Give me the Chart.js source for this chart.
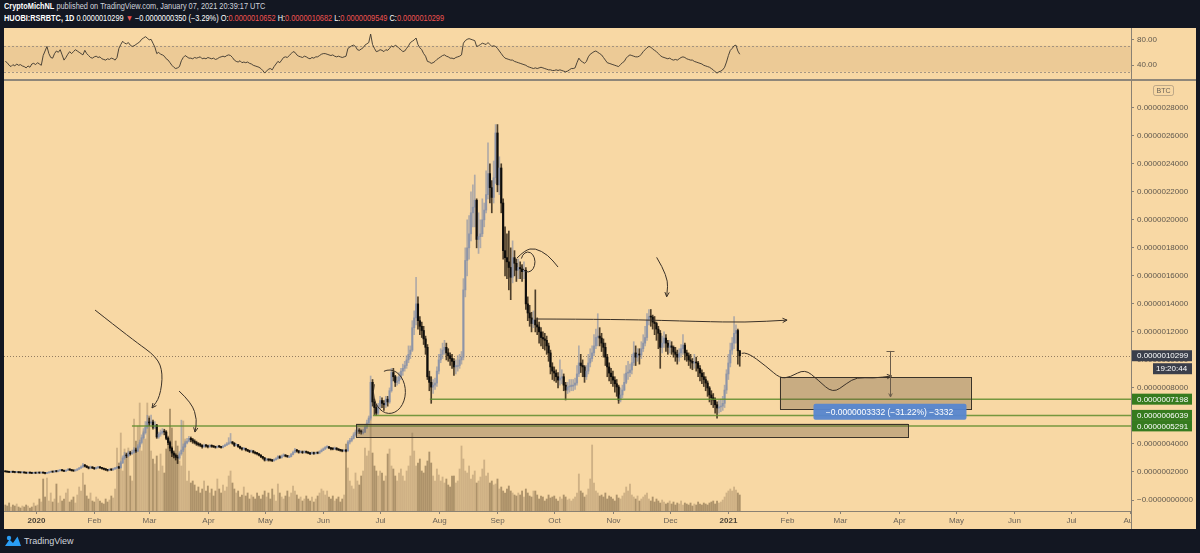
<!DOCTYPE html>
<html>
<head>
<meta charset="utf-8">
<script src="https://cdn.jsdelivr.net/npm/chart.js@4.4.1/dist/chart.umd.min.js"></script>
<style>
  html, body { margin: 0; padding: 0; background: #131722; }
  body { width: 1200px; height: 553px; position: relative; overflow: hidden; font-family: "Liberation Sans", Arial, sans-serif; }
  .hdr { position: absolute; left: 4px; top: 1px; font-size: 8.4px; line-height: 11.7px; color: #d1d4dc; white-space: nowrap; transform: scaleX(0.88); transform-origin: left top; }
  .hdr b { color: #fff; }
  .hdr .w { color: #fff; }
  .hdr .dn { color: #ef5350; }
  .frame { position: absolute; left: 4px; top: 28px; width: 1192px; height: 501px; background: #f8d8a4; }
  .sep { position: absolute; left: 4px; top: 79px; width: 1192px; height: 2px; background: #8f877a; }
  #rsiCanvas { position: absolute; left: 4px; top: 28px; }
  #mainCanvas { position: absolute; left: 4px; top: 80px; }
  .logo { position: absolute; left: 4px; top: 535px; height: 12px; display: flex; align-items: center; color: #d1d4dc; font-size: 9px; }
  .logo svg { margin-right: 2px; }
</style>
</head>
<body>
<div class="hdr">
  <div><b>CryptoMichNL</b> published on TradingView.com, January 07, 2021 20:39:17 UTC</div>
  <div><b>HUOBI:RSRBTC, 1D</b> <span class="w">0.0000010299</span> <span class="dn">▼</span> <span class="w">−0.0000000350 (−3.29%)</span> <span class="w">O:</span><span class="dn">0.0000010652</span> <span class="w">H:</span><span class="dn">0.0000010682</span> <span class="w">L:</span><span class="dn">0.0000009549</span> <span class="w">C:</span><span class="dn">0.0000010299</span></div>
</div>
<div class="frame"></div>
<canvas id="rsiCanvas" width="1192" height="51"></canvas>
<div class="sep"></div>
<canvas id="mainCanvas" width="1192" height="449"></canvas>
<div class="logo">
  <svg width="18" height="12" viewBox="0 0 18 12"><path d="M1 11 L5.5 4.5 L9 8 L13.5 1.5 L17 11 Z" fill="#2a9df4"/><circle cx="5" cy="3" r="2.2" fill="#2a9df4"/></svg>
  <span>TradingView</span>
</div>
<script>
// --- Data (prices in satoshi, 1 sat = 0.00000001 BTC) ---
const startDay = -16;   // first candle: 16 Dec 2019 (day 0 = 1 Jan 2020)
const firstOpen = 20.3;

const closes = [
  20.2, 20.0, 19.8, 20.1, 19.9, 19.7, 19.8, 19.6, 19.5, 19.7,
  19.4, 19.2, 19.5, 19.3, 19.1, 19.4, 19.2, 19.6, 19.3, 19.5,
  19.3, 19.0, 19.4, 19.8, 20.2, 20.0, 20.6, 20.3, 21.0, 21.4,
  21.0, 20.6, 21.2, 21.8, 21.5, 21.0, 20.8, 21.3, 22.0, 22.8,
  23.6, 25.0, 24.2, 23.4, 22.8, 23.5, 22.9, 22.4, 23.0, 23.4,
  23.0, 22.5, 22.0, 21.6, 21.2, 21.8, 21.5, 22.2, 22.8, 23.2,
  23.0, 26.5, 30.0, 32.0, 31.5, 33.5, 33.0, 34.0, 35.7, 35.0,
  38.0, 41.0, 44.5, 48.0, 52.0, 55.7, 55.0, 55.7, 52.0, 53.5,
  45.0, 47.0, 48.0, 49.0, 48.5, 44.0, 41.0, 37.0, 33.5, 32.0,
  30.5, 30.0, 33.0, 35.7, 38.0, 40.7, 42.0, 44.0, 43.0, 42.0,
  41.0, 40.0, 39.5, 39.0, 38.0, 39.0, 38.5, 38.0, 38.8, 38.3,
  38.0, 37.6, 38.2, 38.0, 37.5, 38.4, 39.2, 40.0, 40.8, 41.4,
  40.5, 39.0, 39.5, 38.2, 37.0, 36.4, 36.8, 35.8, 35.2, 34.5,
  35.0, 34.0, 33.4, 33.0, 32.0, 31.0, 30.0, 28.5, 29.0, 28.6,
  28.5, 28.0, 28.8, 29.5, 31.0, 30.2, 31.5, 32.0, 31.4, 31.0,
  31.0, 32.5, 34.0, 35.7, 35.0, 34.0, 34.5, 33.8, 34.5, 34.0,
  33.5, 33.0, 33.8, 33.2, 33.6, 33.5, 34.5, 35.5, 36.5, 37.5,
  38.0, 37.2, 36.5, 36.4, 37.0, 36.2, 35.8, 35.4, 35.0, 35.2,
  35.0, 41.4, 42.5, 44.0, 46.5, 48.5, 50.0, 49.0, 48.5, 48.5,
  52, 55, 58.5, 84, 70, 66, 62, 67, 71, 69,
  68, 72, 70, 78, 91, 88, 84, 85, 88, 92,
  94, 96, 100, 104, 107, 123, 130, 140, 128, 124,
  121, 115, 109, 88, 84, 80.6, 82, 83.5, 92, 100,
  104, 107, 109, 105, 103, 101, 99, 95, 96, 96,
  100, 102, 150, 171, 180, 190, 205, 209, 214, 186,
  188, 190, 200, 207, 218, 233, 223, 216, 230, 262,
  225, 237, 212, 178, 173, 170, 166, 159, 173, 169,
  164, 166, 165, 163, 164, 140, 133.5, 130, 126, 128.5,
  125, 123.5, 120, 116, 115, 114, 110, 105, 95, 92,
  90.6, 88, 85.6, 87, 88, 82, 78.5, 80.7, 81, 82,
  82, 83.5, 90, 97.8, 96, 95, 88, 92, 97.8, 101,
  105, 110, 116, 117, 115.6, 112, 109, 102, 95, 90.6,
  88, 85.6, 83, 80.7, 71.4, 75, 78.5, 84, 90.6, 91,
  92.8, 98, 105, 102, 104, 103.5, 108, 112, 116, 128.5,
  131, 130.6, 127, 126, 122, 119, 109, 112, 115.6, 112,
  109, 110, 109, 105.6, 104, 102, 105, 108, 110.6, 105,
  103, 100, 99, 97.8, 98.5, 97.8, 94, 90.6, 88, 86,
  83.5, 80, 75, 73, 71.4, 68, 65.7, 66.4, 67, 69,
  78.5, 90, 97.8, 107, 112, 119, 121, 106.52, 102.99
];

const highs = [
  20.6, 20.4, 20.2, 20.4, 20.3, 20.0, 20.1, 20.0, 19.8, 20.0,
  19.9, 19.6, 19.8, 19.7, 19.5, 19.7, 19.6, 19.9, 19.8, 19.8,
  19.8, 19.5, 19.7, 20.2, 20.6, 20.5, 21.0, 20.9, 21.5, 21.9,
  21.7, 21.2, 21.6, 22.4, 22.2, 21.8, 21.3, 21.8, 22.5, 23.4,
  24.4, 26.2, 25.4, 24.6, 23.8, 24.2, 23.8, 23.2, 23.6, 24.0,
  23.8, 23.4, 22.8, 22.4, 21.9, 22.4, 22.2, 22.8, 23.4, 23.9,
  24.0, 27.8, 31.5, 34.0, 33.5, 35.0, 34.8, 35.6, 37.5, 37.0,
  39.5, 42.8, 46.5, 51.0, 56.0, 60.5, 58.5, 60.7, 57.0, 56.0,
  54.0, 48.5, 50.0, 51.0, 50.5, 49.5, 45.0, 42.0, 38.0, 35.0,
  33.0, 32.0, 34.5, 57.0, 40.0, 42.0, 44.0, 45.5, 45.0, 44.0,
  43.0, 42.0, 41.0, 40.5, 39.5, 40.0, 39.8, 39.2, 39.5, 39.4,
  38.8, 38.4, 38.8, 38.8, 38.4, 39.0, 40.0, 41.0, 44.5, 47.5,
  41.8, 41.0, 40.2, 39.8, 38.5, 37.5, 37.6, 37.0, 36.2, 35.6,
  35.8, 35.4, 34.5, 34.0, 33.2, 32.4, 31.2, 30.4, 29.8, 29.4,
  29.2, 29.0, 29.4, 30.2, 31.8, 31.6, 32.2, 33.0, 32.4, 31.8,
  31.8, 33.4, 35.0, 36.8, 36.2, 35.4, 35.2, 35.0, 35.2, 35.0,
  34.4, 34.0, 34.4, 34.2, 34.2, 34.2, 35.2, 36.4, 37.2, 38.2,
  38.8, 38.4, 37.6, 37.2, 37.8, 37.4, 36.6, 36.2, 35.8, 35.8,
  36.0, 42.5, 44.0, 45.5, 48.0, 50.0, 52.0, 51.0, 50.0, 50.5,
  53.5, 57.0, 60.0, 88.5, 86.0, 72.0, 68.0, 69.0, 74.0, 73.0,
  71, 74, 74, 80, 94, 94, 89, 88, 91, 94,
  97, 99, 103, 110, 110, 128, 135, 159, 145, 131,
  127, 124, 117, 111, 92, 88, 86, 87, 95, 104,
  108, 112, 114, 112, 108, 105, 104, 101, 100, 103,
  104, 106, 158, 180, 200, 203, 220, 225, 232, 215,
  205, 200, 215, 212, 235, 255, 240, 228, 242, 268,
  268, 245, 240, 215, 195, 190, 192, 180, 185, 178,
  172, 172, 170, 168, 170, 166, 145, 139, 134, 135,
  150, 130, 127, 123, 120, 119, 117, 112, 107, 98,
  95, 93, 91, 100, 93, 90, 84, 84, 86, 86,
  86, 87, 96, 110, 104, 100, 96, 96, 104, 108,
  110, 118, 122, 133, 123, 119, 115, 112, 104, 98,
  94, 92, 88, 86, 82, 80, 82, 90, 96, 99,
  97, 104, 113, 110, 108, 108, 113, 118, 124, 133,
  136, 136, 132, 131, 127, 124, 121, 117, 120, 118,
  114, 114, 113, 110, 109, 107, 108, 111, 118, 112,
  107, 105, 104, 101, 104, 102, 99, 96, 93, 91,
  88, 85, 81, 78, 76, 73, 70, 71, 72, 74,
  82, 93, 104, 112, 116, 131, 125, 122, 106.82
];

const lows = [
  19.9, 19.7, 19.5, 19.6, 19.6, 19.4, 19.5, 19.3, 19.2, 19.3,
  19.1, 18.9, 19.0, 19.0, 18.8, 18.9, 18.9, 19.0, 19.0, 19.1,
  19.0, 18.7, 18.8, 19.2, 19.6, 19.7, 19.8, 20.0, 20.1, 20.7,
  20.6, 20.2, 20.4, 21.0, 21.1, 20.6, 20.4, 20.6, 21.1, 21.8,
  22.6, 23.2, 23.6, 23.0, 22.2, 22.5, 22.4, 21.8, 22.1, 22.6,
  22.6, 22.0, 21.5, 21.0, 20.6, 20.9, 21.0, 21.2, 21.8, 22.4,
  22.3, 22.8, 26.0, 29.0, 30.2, 30.8, 32.0, 32.5, 33.4, 34.0,
  34.5, 37.0, 40.0, 43.5, 47.0, 51.0, 53.0, 53.5, 50.5, 51.0,
  44.0, 44.0, 45.5, 47.0, 46.5, 43.0, 39.5, 35.0, 31.0, 30.0,
  28.5, 26.0, 29.0, 32.0, 34.5, 37.5, 40.0, 41.5, 41.5, 40.5,
  40.0, 39.0, 38.5, 38.0, 37.0, 37.6, 37.8, 37.2, 37.6, 37.6,
  37.4, 37.0, 37.2, 37.4, 37.0, 37.2, 38.0, 38.8, 39.6, 40.4,
  39.8, 38.2, 38.6, 37.6, 36.4, 35.6, 35.8, 35.0, 34.5, 33.8,
  34.0, 33.4, 32.8, 32.2, 31.4, 30.2, 29.2, 27.8, 28.0, 27.8,
  27.8, 27.4, 27.8, 28.5, 29.2, 29.6, 29.8, 31.0, 30.8, 30.4,
  30.4, 30.8, 32.2, 33.6, 34.2, 33.4, 33.6, 33.2, 33.5, 33.4,
  33.0, 32.4, 32.8, 32.6, 32.8, 33.0, 33.2, 34.2, 35.2, 36.0,
  37.0, 36.6, 35.8, 35.8, 36.0, 35.6, 35.2, 34.8, 34.4, 34.6,
  34.4, 34.8, 40.0, 41.5, 43.5, 45.5, 47.5, 47.5, 47.0, 47.0,
  48.0, 51.0, 54.0, 57.0, 67.0, 61.0, 60.5, 61.0, 65.0, 66.0,
  64, 66, 67, 69, 77, 85, 81, 82, 83, 86,
  89, 92, 94, 98, 101, 106, 118, 125, 122, 118,
  116, 111, 104, 86, 78, 69, 76, 79, 81, 90,
  98, 101, 104, 100, 99, 96, 94, 89, 90, 92,
  94, 97, 100, 145, 160, 172, 185, 195, 195, 180,
  176, 180, 188, 195, 205, 215, 212, 205, 212, 226,
  220, 218, 205, 172, 160, 158, 150, 143, 155, 160,
  156, 158, 158, 156, 158, 136, 128, 124, 120, 123,
  120, 118, 112, 110, 108, 107, 104, 99, 90, 86,
  85, 84, 80, 82, 83, 78, 71.4, 76, 77, 78,
  78, 79, 82, 88, 91, 88, 84, 86, 90, 95,
  99, 103, 108, 110, 110, 106, 102, 96, 88, 85,
  83, 81, 77, 74, 69, 70, 73, 78, 83, 86,
  88, 90, 96, 96, 99, 97, 101, 106, 110, 114,
  125, 124, 122, 118, 114, 108, 94, 105, 109, 106,
  104, 105, 104, 102, 99, 97, 99, 102, 104, 100,
  99, 96, 94, 93, 94, 92, 88, 85, 83, 81,
  78, 74, 70, 68, 66, 62, 58.5, 62, 63, 64,
  66, 76, 86, 95, 104, 108, 112, 97, 95.49
];

const volumes = [
  6, 5, 8, 4, 6, 5, 7, 4, 3, 5,
  4, 6, 5, 3, 4, 8, 5, 6, 12, 9,
  32, 14, 33, 10, 18, 9, 12, 27, 8, 15,
  10, 12, 18, 22, 9, 11, 14, 8, 16, 24,
  20, 38, 26, 15, 12, 18, 10, 9, 14, 12,
  10, 8, 7, 12, 9, 11, 15, 13, 22, 63,
  48, 78, 40, 62, 55, 63, 35, 30, 92, 70,
  85, 108, 60, 80, 72, 108, 95, 60, 52, 47,
  55, 40, 57, 45, 38, 62, 75, 102, 83, 58,
  70, 65, 50, 45, 90, 72, 30, 40, 28, 30,
  26, 20, 24, 18, 22, 30, 20, 25, 18, 22,
  15, 20, 32, 22, 18, 26, 20, 24, 35, 40,
  28, 22, 18, 20, 14, 16, 24, 15, 18, 12,
  16, 14, 12, 18, 15, 12, 16, 20, 14, 18,
  12, 22, 16, 10, 27, 18, 14, 12, 15, 20,
  14, 18, 25, 20, 16, 12, 14, 10, 12, 15,
  12, 10, 14, 9, 12, 15, 18, 22, 20, 16,
  20, 14, 12, 15, 10, 12, 14, 9, 12, 16,
  67, 43, 30, 25, 22, 38, 30, 26, 35, 40,
  63, 55, 60, 95, 58, 45, 40, 35, 40, 38,
  30, 35, 57, 62, 45, 42, 35, 30, 38, 42,
  35, 30, 40, 45, 55, 78, 60, 45, 48, 52,
  40, 38, 45, 50, 59, 48, 35, 30, 42, 36,
  30, 34, 28, 32, 26, 24, 35, 35, 28, 30,
  42, 65, 52, 40, 38, 45, 32, 36, 40, 28,
  30, 34, 42, 51, 35, 38, 28, 30, 26, 27,
  32, 22, 24, 20, 18, 22, 25, 20, 18, 16,
  15, 18, 16, 20, 14, 22, 18, 15, 14, 20,
  20, 16, 12, 15, 14, 10, 12, 16, 13, 14,
  15, 12, 10, 14, 12, 16, 14, 11, 12, 10,
  12, 14, 18, 37, 20, 18, 14, 16, 22, 32,
  66, 28, 20, 18, 15, 16, 14, 18, 12, 15,
  14, 12, 10, 16, 13, 12, 15, 18, 24, 20,
  27, 16, 14, 12, 15, 10, 12, 14, 16, 18,
  12, 10, 14, 9, 12, 10, 8, 11, 9, 7,
  8, 10, 7, 9, 6, 8, 7, 10, 6, 8,
  7, 6, 8, 5, 7, 6, 9, 7, 6, 8,
  7, 6, 8, 9, 10, 7, 10, 8, 9, 11,
  14, 18, 20, 22, 20, 24, 21, 18, 16
];

const rsiValues = [
  46, 44, 40, 38, 41, 39, 42, 40, 41, 39,
  38, 36, 39, 37, 42, 43, 41, 44, 42, 40,
  55, 62, 69, 58, 52, 51, 58, 62, 60, 64,
  56, 48, 52, 57, 61, 58, 61, 64, 62, 60,
  58, 56, 63, 58, 55, 52, 51, 53, 54, 52,
  53, 50, 49, 48, 50, 49, 51, 50, 48, 52,
  66, 72, 77, 74, 73, 75, 71, 69, 70, 72,
  74, 76, 80, 82, 84, 82, 79, 80, 74, 68,
  58, 60, 57, 56, 54, 50, 48, 44, 40, 37,
  35, 36, 38, 47, 52, 55, 53, 51, 51, 50,
  52, 51, 52, 53, 50, 51, 50, 52, 51, 50,
  51, 49, 50, 52, 53, 54, 53, 55, 56, 55,
  52, 48, 46, 45, 47, 44, 45, 44, 45, 43,
  42, 40, 39, 38, 37, 35, 32, 28, 31, 34,
  35, 33, 38, 42, 46, 44, 48, 52, 53, 52,
  55, 58, 61, 60, 56, 54, 53, 52, 54, 53,
  51, 50, 52, 51, 53, 53, 55, 57, 58, 58,
  57, 56, 55, 56, 54, 53, 54, 53, 52, 53,
  54, 66, 68, 70, 71, 69, 64, 63, 65, 67,
  71, 73, 75, 88, 72, 66, 61, 62, 64, 63,
  61, 64, 63, 66, 70, 68, 71, 69, 66, 64,
  61, 62, 66, 70, 75, 77, 79, 82, 72, 67,
  64, 58, 54, 46, 45, 43, 44, 46, 49, 51,
  53, 55, 56, 54, 53, 51, 51, 50, 52, 53,
  54, 56, 74, 78, 80, 81, 80, 79, 78, 69,
  70, 72, 74, 73, 72, 75, 72, 69, 70, 69,
  66, 62, 58, 54, 51, 50, 49, 48, 48, 46,
  45, 44, 43, 42, 41, 40, 38, 37, 36, 35,
  36, 35, 36, 37, 36, 35, 34, 33, 33, 32,
  32, 33, 32, 33, 32, 31, 30, 31, 33, 35,
  35, 36, 44, 51, 47, 45, 43, 46, 53, 57,
  59, 61, 62, 60, 58, 56, 52, 48, 44, 43,
  42, 41, 40, 39, 38, 41, 44, 46, 51, 54,
  56, 55, 54, 53, 53, 54, 57, 61, 64, 67,
  69, 68, 65, 63, 61, 58, 55, 53, 52, 51,
  50, 51, 49, 48, 49, 48, 50, 52, 53, 52,
  50, 49, 48, 48, 46, 45, 44, 43, 42, 40,
  39, 38, 37, 35, 33, 30, 28, 30, 31, 33,
  37, 45, 55, 63, 66, 70, 71, 62, 57
];

const monthDays = [0, 31, 60, 91, 121, 152, 182, 213, 244, 274, 305, 335, 366, 397, 425, 456, 486, 517, 547, 578];
const monthLabels = ['2020', 'Feb', 'Mar', 'Apr', 'May', 'Jun', 'Jul', 'Aug', 'Sep', 'Oct', 'Nov', 'Dec', '2021', 'Feb', 'Mar', 'Apr', 'May', 'Jun', 'Jul', 'Aug'];
const priceTicks = [0, 20, 40, 60, 80, 100, 120, 140, 160, 180, 200, 220, 240, 260, 280];
const rsiTicks = [40, 80];
const lastPrice = 102.99;

// --- Drawings, in chart units (day, sat) ---
const levelLines = [
  { price: 71.98, fromDay: 208.3 },
  { price: 60.39, fromDay: 178.2 },
  { price: 52.91, fromDay: 50.9 }
];
const zones = [
  { d0: 169.3, d1: 460.9, p0: 54.6, p1: 45.0 },
  { d0: 393.2, d1: 494.1, p0: 87.6, p1: 65.0 }
];
const sketches = [
  { pts: [[31.4, 135.6], [51.5, 114.2], [64.1, 102.1], [67.3, 90.6], [65.7, 73.5], [61.5, 65.7]], head: true },
  { pts: [[75.8, 77.8], [82.6, 69.2], [85.3, 57.1], [84.2, 48.5]], head: true },
  { pts: [[328.1, 173.2], [334.3, 159.4], [333.4, 145.1]], head: true },
  { pts: [[254.3, 172.7], [258.5, 178.4], [263.8, 179.9], [270.7, 174.9], [276.0, 166.3]], head: false },
  { pts: [[263.8, 129.2], [310, 129.0], [351, 127.4], [375, 126.8], [397, 128.4]], head: true },
  { pts: [[373.0, 104.7], [375.6, 105.9], [386.2, 95.2], [393.2, 86.9], [398.5, 87.6], [406.4, 93.5], [413.3, 85.7], [421.2, 76.1], [428.5, 83.3], [433.8, 87.6], [442.4, 86.9], [452.2, 88.5]], head: true }
];
const loops = [
  { d: 186.9, p: 77.3, rd: 8.45, rp: 15.5, a0: 250, a1: 560 },
  { d: 260.1, p: 169.9, rd: 3.7, rp: 7.1, a0: 200, a1: 520 }
];
const measure = { day: 451.3, from: 106.4, to: 73.5, labelDay: 451.1, labelPrice: 63, text: '−0.0000003332 (−31.22%) −3332' };
const axisLabels = [
  { price: 102.99, text: '0.0000010299', bg: '#3b3f4b' },
  { price: 71.98, text: '0.0000007198', bg: '#367b1f' },
  { price: 60.39, text: '0.0000006039', bg: '#367b1f' },
  { price: 52.91, text: '0.0000005291', bg: '#367b1f' }
];

// --- Derived series ---
const days = closes.map((_, i) => startDay + i);
const opens = closes.map((c, i) => (i === 0 ? firstOpen : closes[i - 1]));
const isUp = closes.map((c, i) => c >= opens[i]);

const FONT = '"Liberation Sans", Arial, sans-serif';
const tickColor = '#5f584e';
const axisColor = '#8a8173';
const xMin = -16.7, xMax = 578.7;

const upBody = 'rgba(128,140,168,0.72)', upWick = 'rgba(128,140,168,0.6)';
const dnBody = '#0e0d0b', dnWick = 'rgba(35,25,12,0.8)';
const volUp = 'rgba(150,125,90,0.42)', volDn = 'rgba(112,90,58,0.55)';

function arrowHead(ctx, fx, fy, tx, ty, size) {
  const ang = Math.atan2(ty - fy, tx - fx);
  ctx.beginPath();
  ctx.moveTo(tx - size * Math.cos(ang - 0.45), ty - size * Math.sin(ang - 0.45));
  ctx.lineTo(tx, ty);
  ctx.lineTo(tx - size * Math.cos(ang + 0.45), ty - size * Math.sin(ang + 0.45));
  ctx.stroke();
}

// --- RSI pane ---
const rsiBand = {
  id: 'rsiBand',
  beforeDatasetsDraw(chart) {
    const { ctx, chartArea: a, scales: { y } } = chart;
    const y70 = y.getPixelForValue(70), y30 = y.getPixelForValue(30);
    ctx.save();
    ctx.fillStyle = 'rgba(175,130,80,0.16)';
    ctx.fillRect(a.left, y70, a.right - a.left, y30 - y70);
    ctx.strokeStyle = 'rgba(140,130,120,0.75)';
    ctx.lineWidth = 1;
    ctx.setLineDash([2, 2]);
    [y70, y30].forEach(v => {
      ctx.beginPath();
      ctx.moveTo(a.left, Math.round(v) + 0.5);
      ctx.lineTo(a.right, Math.round(v) + 0.5);
      ctx.stroke();
    });
    ctx.restore();
  }
};

new Chart(document.getElementById('rsiCanvas'), {
  type: 'line',
  data: {
    datasets: [{
      data: days.map((d, i) => ({ x: d, y: rsiValues[i] })),
      borderColor: '#3a342c', borderWidth: 0.9, pointRadius: 0, tension: 0
    }]
  },
  options: {
    responsive: false, animation: false, devicePixelRatio: 1,
    layout: { padding: 0 },
    plugins: { legend: { display: false }, tooltip: { enabled: false } },
    scales: {
      x: { type: 'linear', min: xMin, max: xMax, display: false },
      y: {
        position: 'right', min: 18.9, max: 97.4,
        afterBuildTicks: s => { s.ticks = rsiTicks.map(v => ({ value: v })); },
        afterFit: s => { s.width = 65; s.paddingTop = 0; s.paddingBottom = 0; },
        ticks: { callback: v => v.toFixed(2), font: { size: 8, family: FONT }, color: tickColor, padding: 3 },
        grid: { drawOnChartArea: false, tickLength: 3, color: axisColor },
        border: { color: axisColor }
      }
    }
  },
  plugins: [rsiBand]
});

// --- Main pane overlay: levels, drawings, axis labels ---
const mainOverlay = {
  id: 'mainOverlay',
  beforeDatasetsDraw(chart) {
    const { ctx, chartArea: a, scales: { y } } = chart;
    const yp = Math.round(y.getPixelForValue(lastPrice)) + 0.5;
    ctx.save();
    ctx.strokeStyle = 'rgba(115,95,75,0.75)';
    ctx.lineWidth = 1;
    ctx.setLineDash([1, 2]);
    ctx.beginPath(); ctx.moveTo(a.left, yp); ctx.lineTo(a.right, yp); ctx.stroke();
    ctx.restore();
  },
  afterDatasetsDraw(chart) {
    const { ctx, chartArea: a, scales: { x, y } } = chart;
    const X = d => x.getPixelForValue(d), Y = p => y.getPixelForValue(p);
    ctx.save();
    ctx.beginPath(); ctx.rect(a.left, a.top, a.right - a.left, a.bottom - a.top); ctx.clip();

    // horizontal levels
    ctx.strokeStyle = 'rgba(95,140,45,0.85)';
    ctx.lineWidth = 1.5;
    levelLines.forEach(l => {
      const yy = Y(l.price);
      ctx.beginPath(); ctx.moveTo(X(l.fromDay), yy); ctx.lineTo(a.right, yy); ctx.stroke();
    });

    // zones
    zones.forEach(z => {
      const x0 = X(z.d0), x1 = X(z.d1), y0 = Y(z.p0), y1 = Y(z.p1);
      ctx.fillStyle = 'rgba(100,80,60,0.32)';
      ctx.fillRect(x0, y0, x1 - x0, y1 - y0);
      ctx.strokeStyle = '#3b3328';
      ctx.lineWidth = 1;
      ctx.strokeRect(Math.round(x0) + 0.5, Math.round(y0) + 0.5, Math.round(x1 - x0), Math.round(y1 - y0));
    });

    // freehand sketches
    ctx.strokeStyle = '#3a3128';
    ctx.lineWidth = 1;
    sketches.forEach(s => {
      const pts = s.pts.map(p => [X(p[0]), Y(p[1])]);
      ctx.beginPath();
      ctx.moveTo(pts[0][0], pts[0][1]);
      for (let i = 1; i < pts.length - 1; i++) {
        const mx = (pts[i][0] + pts[i + 1][0]) / 2, my = (pts[i][1] + pts[i + 1][1]) / 2;
        ctx.quadraticCurveTo(pts[i][0], pts[i][1], mx, my);
      }
      const last = pts[pts.length - 1];
      ctx.lineTo(last[0], last[1]);
      ctx.stroke();
      if (s.head) {
        const prev = pts[pts.length - 2];
        arrowHead(ctx, prev[0], prev[1], last[0], last[1], 5);
      }
    });
    loops.forEach(l => {
      const cx = X(l.d), cy = Y(l.p);
      const rx = Math.abs(X(l.d + l.rd) - cx), ry = Math.abs(Y(l.p + l.rp) - cy);
      ctx.beginPath();
      ctx.ellipse(cx, cy, rx, ry, 0, l.a0 * Math.PI / 180, l.a1 * Math.PI / 180);
      ctx.stroke();
    });

    // measure tool
    const mx = Math.round(X(measure.day)) + 0.5, my0 = Y(measure.from), my1 = Y(measure.to);
    ctx.strokeStyle = '#6b5c4a';
    ctx.beginPath(); ctx.moveTo(mx, my0); ctx.lineTo(mx, my1); ctx.stroke();
    ctx.beginPath(); ctx.moveTo(mx - 4, Math.round(my0) + 0.5); ctx.lineTo(mx + 4, Math.round(my0) + 0.5); ctx.stroke();
    arrowHead(ctx, mx, my1 - 10, mx, my1, 4);
    const lx = X(measure.labelDay), ly = Y(measure.labelPrice);
    ctx.fillStyle = 'rgba(86,134,208,0.95)';
    ctx.beginPath();
    ctx.roundRect(lx - 76, ly - 8, 153, 16, 2);
    ctx.fill();
    ctx.fillStyle = '#fff';
    ctx.font = '8.5px ' + FONT;
    ctx.textAlign = 'center';
    ctx.textBaseline = 'middle';
    ctx.fillText(measure.text, lx, ly + 0.5);
    ctx.restore();
  },
  afterDraw(chart) {
    const { ctx, chartArea: a, scales: { x, y } } = chart;
    ctx.save();
    // axis frame lines
    ctx.strokeStyle = axisColor;
    ctx.lineWidth = 1;
    ctx.beginPath();
    ctx.moveTo(a.right + 0.5, 0); ctx.lineTo(a.right + 0.5, chart.height);
    ctx.stroke();

    // time labels
    ctx.beginPath(); ctx.rect(0, a.bottom, a.right, chart.height - a.bottom); ctx.clip();
    ctx.textAlign = 'center';
    ctx.textBaseline = 'middle';
    monthDays.forEach((d, i) => {
      const px = Math.round(x.getPixelForValue(d)) + 0.5;
      ctx.beginPath(); ctx.moveTo(px, a.bottom); ctx.lineTo(px, a.bottom + 3); ctx.stroke();
      const year = /^\d{4}$/.test(monthLabels[i]);
      ctx.fillStyle = year ? '#4a4339' : '#6a6258';
      ctx.font = (year ? 'bold ' : '') + '8px ' + FONT;
      ctx.fillText(monthLabels[i], px, a.bottom + 9.5);
    });
    ctx.restore();

    // price labels on the axis
    ctx.save();
    ctx.font = '8px ' + FONT;
    ctx.textBaseline = 'middle';
    ctx.textAlign = 'left';
    axisLabels.forEach(l => {
      const yy = y.getPixelForValue(l.price);
      ctx.fillStyle = l.bg;
      ctx.fillRect(a.right + 1, yy - 5.5, 60, 11);
      ctx.fillStyle = '#fff';
      ctx.fillText(l.text, a.right + 6, yy + 0.5);
    });
    const ty = y.getPixelForValue(lastPrice) + 13;
    ctx.fillStyle = '#3b3f4b';
    ctx.fillRect(a.right + 22, ty - 5.5, 39, 11);
    ctx.fillStyle = '#fff';
    ctx.fillText('19:20:44', a.right + 25, ty + 0.5);

    // currency tag
    ctx.strokeStyle = 'rgba(120,110,100,0.45)';
    ctx.beginPath(); ctx.roundRect(a.right + 22.5, 5.5, 20, 10, 2); ctx.stroke();
    ctx.fillStyle = '#6a6258';
    ctx.font = '7px ' + FONT;
    ctx.textAlign = 'center';
    ctx.fillText('BTC', a.right + 32.5, 10.8);
    ctx.restore();
  }
};

new Chart(document.getElementById('mainCanvas'), {
  type: 'bar',
  data: {
    datasets: [
      {
        label: 'Volume', yAxisID: 'yv', order: 3, grouped: false, barThickness: 1.2,
        data: days.map((d, i) => ({ x: d, y: volumes[i] })),
        backgroundColor: isUp.map(u => (u ? volUp : volDn))
      },
      {
        label: 'Wicks', yAxisID: 'y', order: 2, grouped: false, barThickness: 1,
        data: days.map((d, i) => ({ x: d, y: [lows[i], highs[i]] })),
        backgroundColor: isUp.map(u => (u ? upWick : dnWick))
      },
      {
        label: 'Bodies', yAxisID: 'y', order: 1, grouped: false, barThickness: 1.5, minBarLength: 1,
        data: days.map((d, i) => ({ x: d, y: [opens[i], closes[i]] })),
        backgroundColor: isUp.map(u => (u ? upBody : dnBody))
      }
    ]
  },
  options: {
    responsive: false, animation: false, devicePixelRatio: 1,
    layout: { padding: { top: 1, left: 0, right: 0, bottom: 0 } },
    plugins: { legend: { display: false }, tooltip: { enabled: false } },
    scales: {
      x: {
        type: 'linear', min: xMin, max: xMax, offset: false,
        ticks: { display: false },
        grid: { display: false },
        border: { display: true, color: axisColor },
        afterFit: s => { s.height = 18; }
      },
      y: {
        position: 'right', min: -7.85, max: 299.1,
        afterBuildTicks: s => { s.ticks = priceTicks.map(v => ({ value: v })); },
        afterFit: s => { s.width = 65; s.paddingTop = 0; s.paddingBottom = 0; },
        ticks: {
          callback: v => (v === 0 ? '−0.0000000000' : (v / 1e8).toFixed(10)),
          font: { size: 8, family: FONT }, color: tickColor, padding: 3
        },
        grid: { drawOnChartArea: false, tickLength: 3, color: axisColor },
        border: { color: axisColor }
      },
      yv: { display: false, min: 0, max: 430 }
    }
  },
  plugins: [mainOverlay]
});
</script>
</body>
</html>
